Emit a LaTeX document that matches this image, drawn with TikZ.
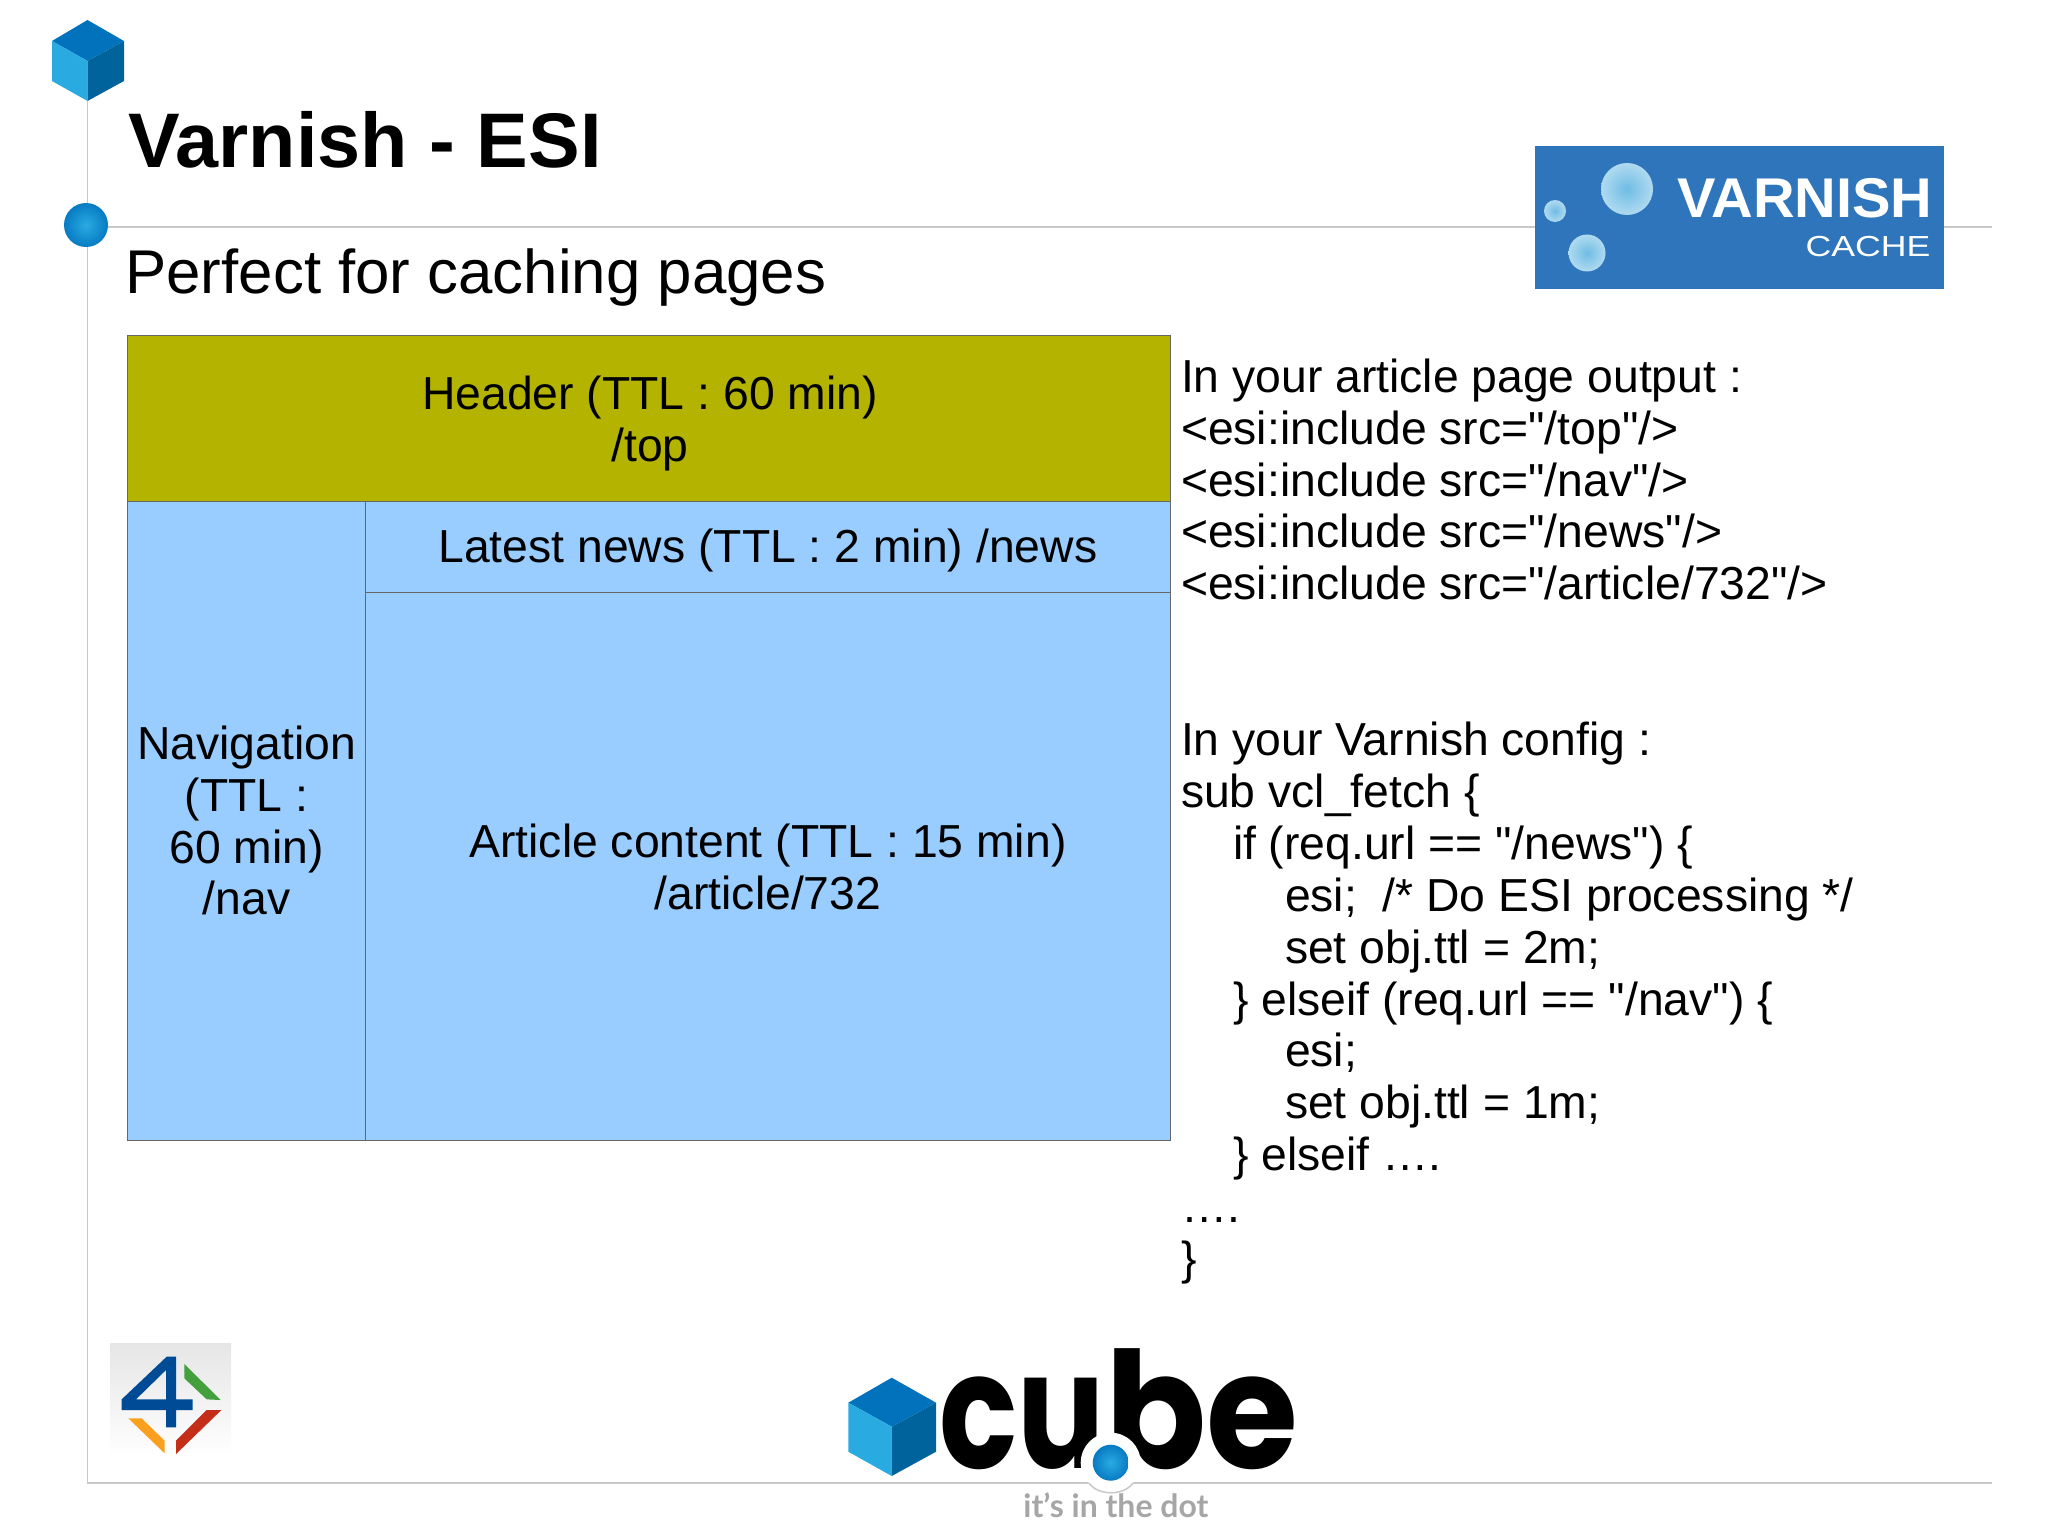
\documentclass[tikz,border=0pt]{standalone}
\usepackage{graphicx}
\usepackage{fontspec}
\setmainfont{Liberation Sans}
\newfontfamily\plainfont{Liberation Sans}
\newfontfamily\popfont{Poppins}[BoldFont={Poppins Bold}]
\newfontfamily\latofont{Lato}
\definecolor{rulegray}{HTML}{C8C8CA}
\definecolor{olivecell}{HTML}{B3B300}
\definecolor{bluecell}{HTML}{99CCFF}
\definecolor{cubetop}{HTML}{0272BD}
\definecolor{cubeleft}{HTML}{29ABE2}
\definecolor{cuberight}{HTML}{00639C}
\definecolor{varblue}{HTML}{2F75BB}
\definecolor{bubble}{HTML}{6FBCE4}
\tikzset{
  rulerline/.style={draw=rulegray,line width=0.75pt},
  cell/.style={draw=black!60,line width=0.5pt,inner sep=0pt,outer sep=0pt},
  celltext/.style={inner sep=0pt,outer sep=0pt,align=center,
    font=\fontsize{23.15}{25.95}\selectfont},
  bodytext/.style={anchor=north west,inner sep=0pt,outer sep=0pt,align=left,
    font=\plainfont\fontsize{23.15}{25.95}\selectfont},
  bubbledot/.style={circle,inner sep=0pt,outer sep=0pt,inner color=bubble,outer color=white!45!bubble},
  bluedot/.style={circle,inner sep=0pt,outer sep=0pt,inner color=cubeleft,outer color=cubetop!85!cubeleft},
}
\begin{document}
\begin{tikzpicture}[x=0.5pt,y=-0.5pt]
\useasboundingbox (0,0) rectangle (2048,1535);
\fill[white] (0,0) rectangle (2048,1535);
% ruler lines
\coordinate (vtop) at (87.5,101);
\coordinate (vbot) at (87.5,1483);
\coordinate (htopr) at (1992,227);
\coordinate (hbotr) at (1992,1483);
\draw[rulerline] (vtop) -- (vbot) -- (hbotr);
\draw[rulerline] (87.5,227) -- (htopr);
% top cube
\fill[cubetop] (52,41) -- (87.5,20) -- (124,41) -- (87.5,61) -- cycle;
\fill[cubeleft] (52,41) -- (87.5,61) -- (87.5,101) -- (52,81) -- cycle;
\fill[cuberight] (124,41) -- (87.5,61) -- (87.5,101) -- (124,81) -- cycle;
\node[bluedot,minimum size=22pt] (topdot) at (86,225) {};
% titles
\node[anchor=base west,inner sep=0pt,font=\fontsize{38.7}{44}\selectfont\bfseries] (title) at (128,168) {Varnish - ESI};
\node[anchor=base west,inner sep=0pt,font=\fontsize{30.9}{34}\selectfont] (subtitle) at (125,294) {Perfect for caching pages};
% varnish logo
\fill[varblue] (1535,146) rectangle (1944,289);
\node[bubbledot,minimum size=26pt] (b1) at (1627,189) {};
\node[bubbledot,minimum size=11pt] (b2) at (1555,211) {};
\node[bubbledot,minimum size=18.5pt] (b3) at (1587,253) {};
\node[anchor=base east,inner sep=0pt,text=white,xscale=1.03,font=\fontsize{28}{30}\selectfont\bfseries] (varnishword) at (1933,218) {VARNISH};
\node[anchor=base east,inner sep=0pt,text=white,xscale=1.23,font=\fontsize{14.5}{16}\selectfont] (cacheword) at (1931,257) {CACHE};
% table
\node[cell,fill=olivecell,minimum width=521.15pt,minimum height=82.5pt] (header) at (648.85,418.5) {};
\node[cell,fill=bluecell,minimum width=119pt,minimum height=319.5pt] (nav) at (246.7,820.5) {};
\node[cell,fill=bluecell,minimum width=402.15pt,minimum height=45.5pt] (news) at (767.85,546.5) {};
\node[cell,fill=bluecell,minimum width=402.15pt,minimum height=274pt] (article) at (767.85,866) {};
\node[celltext] (headertext) at (650,423.5) {Header (TTL : 60 min)\\/top};
\node[celltext] (navtext) at (246.7,820.5) {Navigation\\(TTL :\\60 min)\\/nav};
\node[celltext,anchor=base] (newstext) at (767.85,562) {Latest news (TTL : 2 min) /news};
\node[celltext] (articletext) at (768,867) {Article content (TTL : 15 min)\\/article/732};
% right text
\node[bodytext] (esiblock) at (1181,358.7) {In your article page output :\\
<esi:include src="/top"/>\\
<esi:include src="/nav"/>\\
<esi:include src="/news"/>\\
<esi:include src="/article/732"/>};
\node[bodytext] (vclblock) at (1181,722) {In your Varnish config :\\
sub vcl\_fetch \{\\
\hspace*{26pt}if (req.url == "/news") \{\\
\hspace*{52pt}esi;\ \ /* Do ESI processing */\\
\hspace*{52pt}set obj.ttl = 2m;\\
\hspace*{26pt}\} elseif (req.url == "/nav") \{\\
\hspace*{52pt}esi;\\
\hspace*{52pt}set obj.ttl = 1m;\\
\hspace*{26pt}\} elseif ….\\
….\\
\}};
% 4 logo
\shade[top color=black!10,bottom color=white,draw=none] (110,1343) rectangle (231,1457);
\begin{scope}[shift={(60,1320)},x=0.1667pt,y=-0.1667pt]
\fill[even odd rule,fill={rgb,255:red,0;green,75;blue,150}] (320,110) -- (348,110) -- (348,238) -- (398,238) -- (398,270) -- (348,270) -- (348,322) -- (318,322) -- (318,270) -- (185,270) -- (185,238) -- cycle (318,150) -- (318,238) -- (228,238) -- cycle;
\fill[fill={rgb,255:red,67;green,160;blue,60}] (373,132) -- (482,240) -- (440,238) -- (373,175) -- cycle;
\fill[fill={rgb,255:red,196;green,46;blue,24}] (440,270) -- (484,270) -- (348,402) -- (348,362) -- cycle;
\fill[fill={rgb,255:red,250;green,160;blue,30}] (205,295) -- (245,295) -- (314,362) -- (314,400) -- cycle;
\end{scope}
% cube logo
\fill[cubetop] (848.3,1402.7) -- (891.7,1377.7) -- (936,1402.7) -- (891.7,1426.7) -- cycle;
\fill[cubeleft] (848.3,1402.7) -- (891.7,1426.7) -- (891.7,1476) -- (848.3,1451.7) -- cycle;
\fill[cuberight] (936,1402.7) -- (891.7,1426.7) -- (891.7,1476) -- (936,1451.7) -- cycle;
\node[anchor=base west,inner sep=0pt,font=\popfont\bfseries\fontsize{81}{90}\selectfont] (cubeword) at (939,1468) {\scalebox{0.8}[1]{cu}\scalebox{0.92}[1]{be}};
\node[circle,fill=white,inner sep=0pt,minimum size=30pt] (halo) at (1110.7,1462.7) {};
\node[bluedot,minimum size=18pt] (cubedot) at (1110.7,1462.7) {};
\coordinate (bumpl) at (1089,1483);
\coordinate (bumpr) at (1133,1483);
\draw[rulerline] (bumpl) .. controls (1098,1496) and (1124,1496) .. (bumpr);
\node[anchor=base west,inner sep=0pt,text=black!35,font=\latofont\bfseries\fontsize{16}{20}\selectfont] (tagline) at (1023,1517) {it’s in the dot};
\end{tikzpicture}
\end{document}
